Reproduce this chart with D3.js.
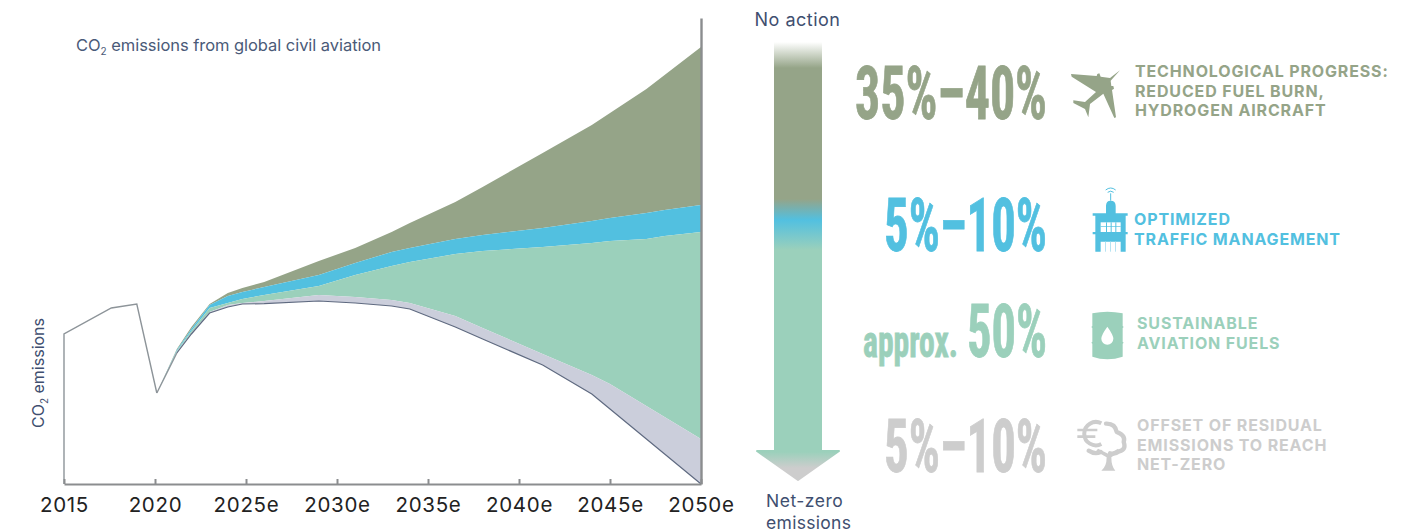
<!DOCTYPE html>
<html><head><meta charset="utf-8">
<script src="https://cdn.jsdelivr.net/npm/d3@7/dist/d3.min.js"></script>
<style>html,body{margin:0;padding:0;background:#fff}svg{display:block}text{font-family:Inter,sans-serif}</style>
</head><body><svg id="c" width="1427" height="532"></svg>
<script>
// Data (index units, net-zero path reaches 0 in 2050)
const histYears = [2015, 2015, 2017.6, 2019, 2020.1];
const histValues = [0, 750, 880, 900, 455];
const years = [2020.1,2021.2,2022,2023,2024,2024.8,2026,2029,2031,2033,2034,2036.5,2038,2041.3,2044,2045,2047,2048,2050];
const residual = [455,655,750,855,885,900,902,915,905,890,875,785,725,595,450,375,225,150,0];
const offsetTop = [455,660,755,860,895,905,915,945,935,920,905,840,780,650,545,500,390,335,225];
const safTop = [455,665,765,880,905,925,945,990,1045,1090,1110,1150,1165,1185,1205,1215,1225,1240,1260];
const trafficTop = [455,670,775,895,940,960,985,1045,1105,1160,1180,1225,1245,1280,1315,1330,1355,1370,1395];
const noAction = [455,675,785,900,955,980,1010,1115,1180,1260,1305,1410,1485,1655,1795,1855,1975,2045,2185];
const tickYears = [2015,2020,2025,2030,2035,2040,2045,2050];
const tickLabels = ["2015","2020","2025e","2030e","2035e","2040e","2045e","2050e"];
const bigLabels = ["35%–40%","5%–10%","50%","5%–10%"];
const leverLabels = [
  ["TECHNOLOGICAL PROGRESS:","REDUCED FUEL BURN,","HYDROGEN AIRCRAFT"],
  ["OPTIMIZED","TRAFFIC MANAGEMENT"],
  ["SUSTAINABLE","AVIATION FUELS"],
  ["OFFSET OF RESIDUAL","EMISSIONS TO REACH","NET-ZERO"]];

const OLIVE="#95a488",BLUE="#52c0e0",MINT="#9bd0bb",LAV="#cbcedb",GREY="#cdcdcd",INK="#3f4f70",AXIS="#8b8d8f";
const svg=d3.select("#c");
const x=d3.scaleLinear().domain([2015,2050]).range([64,701]);
const y=d3.scaleLinear().domain([0,2330]).range([484,18]);

// stacked bands
const band=(lo,hi,fill)=>{
  const a=d3.area().x((d,i)=>x(years[i])).y0((d,i)=>y(lo[i])).y1((d,i)=>y(hi[i]));
  svg.append("path").attr("d",a(years)).attr("fill",fill);
};
band(trafficTop,noAction,OLIVE);
band(safTop,trafficTop,BLUE);
band(offsetTop,safTop,MINT);
band(residual,offsetTop,LAV);

const ln=d3.line().x(d=>x(d[0])).y(d=>y(d[1]));
svg.append("path").attr("d",ln(d3.zip(histYears,histValues))).attr("fill","none").attr("stroke","#8d9499").attr("stroke-width",1.4);
svg.append("path").attr("d",ln(d3.zip(years,residual).slice(1))).attr("fill","none").attr("stroke","#5f6a80").attr("stroke-width",1.2);
svg.append("path").attr("d",ln([[histYears[4],histValues[4]],[years[1],residual[1]]])).attr("fill","none").attr("stroke","#8d9499").attr("stroke-width",1.4);

// axes
const ax=svg.append("g").attr("transform","translate(0,484)")
  .call(d3.axisBottom(x).tickValues(tickYears).tickSize(-5).tickSizeOuter(0).tickPadding(13).tickFormat((d,i)=>tickLabels[i]));
ax.selectAll("path,line").attr("stroke",AXIS).attr("stroke-width",2);
ax.selectAll("text").attr("fill","#222").attr("font-size",20.5).attr("font-family","Inter").attr("letter-spacing","0.7");
const ar=svg.append("g").attr("transform","translate(701,0)").call(d3.axisRight(y).tickValues([]).tickSizeOuter(0));
ar.selectAll("path").attr("stroke",AXIS).attr("stroke-width",2.4);

// titles with subscript
function co2(sel,rest){
  sel.append("tspan").text("CO");
  sel.append("tspan").attr("dy",4).attr("font-size",10).text("2");
  sel.append("tspan").attr("dy",-4).text(rest);
}
svg.append("text").attr("x",76).attr("y",51).attr("font-size",16.5).attr("fill","#4a5a78").attr("letter-spacing","-0.05").call(co2," emissions from global civil aviation");
svg.append("text").attr("transform","translate(44,428) rotate(-90)").attr("font-size",16).attr("fill",INK).attr("letter-spacing","0").call(co2," emissions");

// gradient arrow
const g=svg.append("defs").append("linearGradient").attr("id","arrow").attr("gradientUnits","userSpaceOnUse").attr("x1",0).attr("x2",0).attr("y1",40).attr("y2",482);
const stop=(py,c)=>g.append("stop").attr("offset",(py-40)/442).attr("stop-color",c);
[[42,"#ffffff"],[68,OLIVE],[199,OLIVE],[220,BLUE],[250,MINT],[452,MINT],[468,GREY],[482,GREY]].forEach(d=>stop(d[0],d[1]));
svg.append("path").attr("d","M775,40H821V451H839L798,480L757,451H775Z").attr("fill","url(#arrow)").attr("stroke","url(#arrow)").attr("stroke-width",2).attr("stroke-linejoin","round");

svg.append("text").attr("x",797.5).attr("y",26).attr("text-anchor","middle").attr("font-size",18).attr("letter-spacing","0.5").attr("fill",INK).text("No action");
svg.append("text").attr("x",766).attr("y",507).attr("font-size",17.5).attr("letter-spacing","0.5").attr("fill",INK).text("Net-zero");
svg.append("text").attr("x",766).attr("y",529).attr("font-size",17.5).attr("letter-spacing","0.3").attr("fill",INK).text("emissions");

// big condensed percentages, squeezed horizontally to the reference's widths
const cond="'Liberation Sans Narrow','Roboto Condensed',Roboto,sans-serif";
function squeezed(right,by,w,size,c,label){
  const t=svg.append("text").attr("y",0).style("font-family",cond).attr("font-weight",700)
    .attr("font-size",size).attr("fill",c).attr("stroke",c).attr("stroke-width",0.8).text(label);
  const b=t.node().getBBox();
  const sx=w/b.width;
  t.attr("transform",`translate(${right-w-b.x*sx},${by}) scale(${sx},1)`);
}
[[119,192,OLIVE,0],[251,163,BLUE,1],[357,80,MINT,2],[472,163,GREY,3]].forEach(([by,w,c,i])=>squeezed(1047,by,w,74,c,bigLabels[i]));
squeezed(958,357,95,44,MINT,"approx.");

// lever captions
const capRows=[[1135,77,19.5,OLIVE,0],[1134,225,20,BLUE,1],[1137,329,20,MINT,2],[1137,431,19.5,GREY,3]];
capRows.forEach(([cx,cy,lh,c,i])=>{
  leverLabels[i].forEach((t,k)=>svg.append("text").attr("x",cx).attr("y",cy+k*lh).attr("font-size",16).attr("font-weight",700).attr("letter-spacing","0.85").attr("fill",c).text(t));
});

// icons (drawn in 3x crop space)
const icon=(ox,oy)=>svg.append("g").attr("transform",`translate(${ox},${oy}) scale(${1/3})`);
icon(1060,50).append("path").attr("fill",OLIVE).attr("d","M180,61L150,84L122,80L118,70L112,72L110,78L33,72L35,80L108,126L75,156L40,151L40,159L75,177L85,202L90,162L130,131L163,204L168,202L156,120L162,116L160,108L154,108L152,92Z");
const tw=icon(1060,50);
tw.append("path").attr("fill",BLUE).attr("d","M138,490V468Q138,452 152,452Q167,452 167,468V490H203V497H197V546H203V553H197V605H182V575H122V605H106V553H98V546H106V497H98V490Z");
tw.append("rect").attr("x",122).attr("y",517).attr("width",60).attr("height",29).attr("fill","#fff");
[138,152,166].forEach(a=>tw.append("rect").attr("x",a).attr("y",517).attr("width",3).attr("height",29).attr("fill",BLUE));
tw.append("rect").attr("x",122).attr("y",529).attr("width",60).attr("height",2).attr("fill",BLUE);
[135,150,165].forEach(a=>tw.append("rect").attr("x",a).attr("y",575).attr("width",3).attr("height",30).attr("fill","#b5e3f2"));
tw.append("rect").attr("x",150.5).attr("y",430).attr("width",3).attr("height",22).attr("fill",BLUE);
["M137,420Q152,408 167,420","M143,427Q152,420 161,427"].forEach(d=>tw.append("path").attr("d",d).attr("fill","none").attr("stroke",BLUE).attr("stroke-width",3));
const br=icon(1060,290);
br.append("path").attr("fill",MINT).attr("d","M97,70Q142,60 188,70V108L191,111L188,114V155L191,158L188,161V200Q142,215 97,200V161L94,158L97,155V114L94,111L97,108Z");
br.append("path").attr("fill","#fff").attr("d","M142,110Q160,135 160,146A18,18 0 0 1 124,146Q124,135 142,110Z");
const tr=icon(1060,290);
tr.append("path").attr("fill","none").attr("stroke",GREY).attr("stroke-width",12).attr("d","M124,400A35,35 0 1 0 124,462");
tr.append("path").attr("fill","none").attr("stroke",GREY).attr("stroke-width",8).attr("d","M52,420H112M52,440H106");
tr.append("path").attr("fill","none").attr("stroke",GREY).attr("stroke-width",13).attr("stroke-linejoin","round").attr("stroke-linecap","round").attr("d","M138,401Q166,400 170,426Q198,436 191,456Q200,478 178,484Q165,494 150,490M86,482Q104,494 122,486");
tr.append("path").attr("fill",GREY).attr("d","M124,542Q140,530 140,502L108,484L114,476L146,492L174,476L180,484L154,502Q154,530 166,542Z");
</script></body></html>
